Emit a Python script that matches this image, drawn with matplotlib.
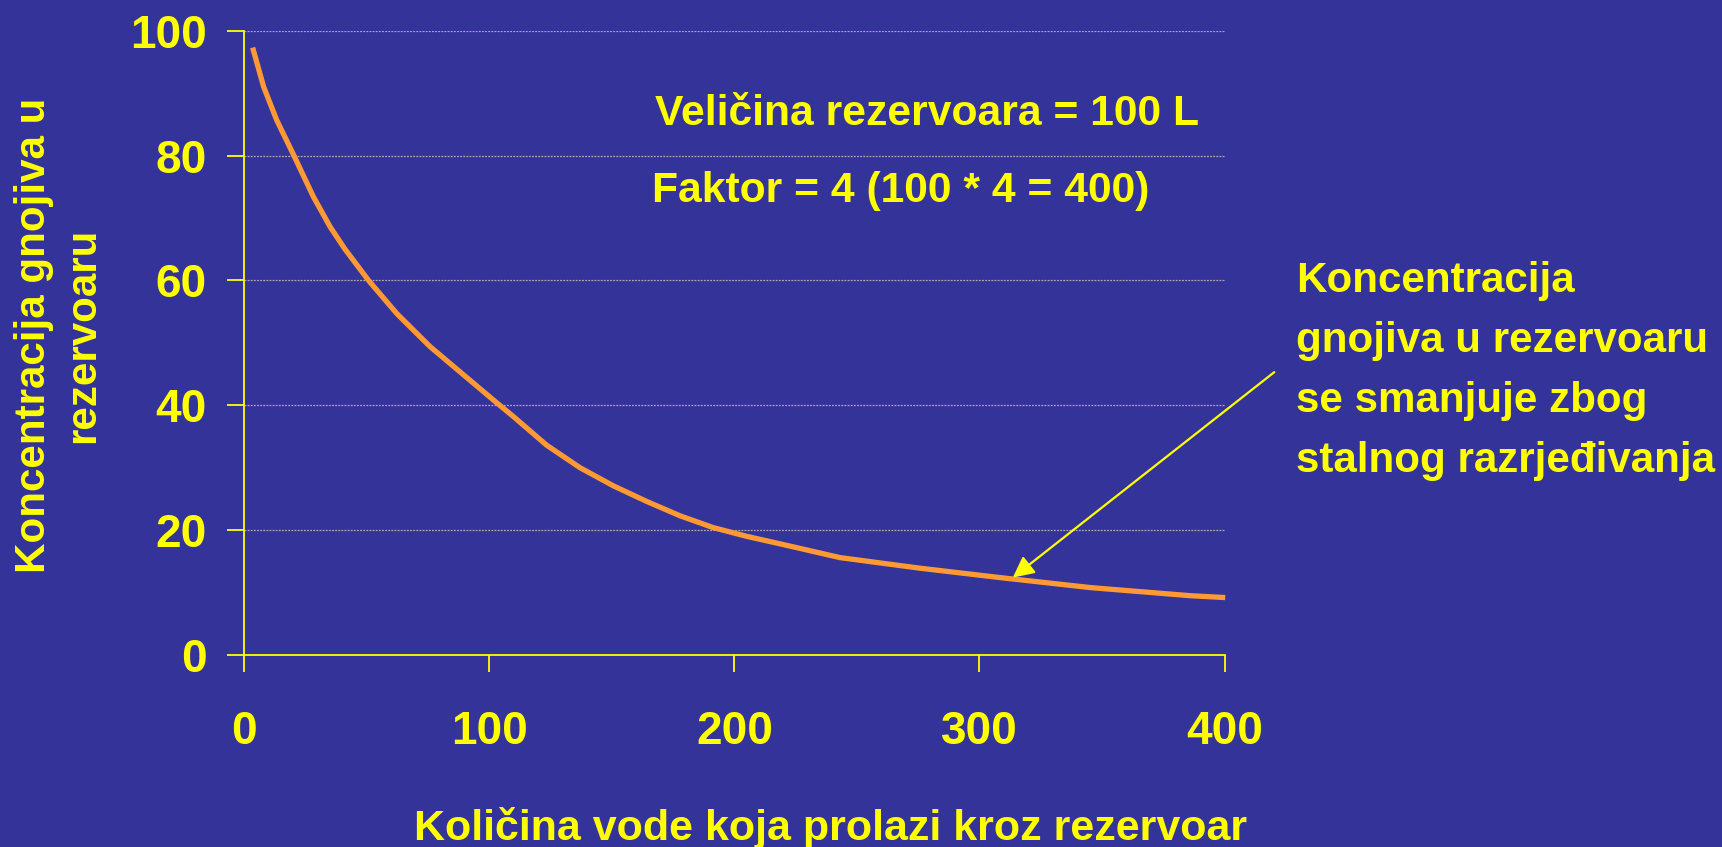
import matplotlib
matplotlib.use("Agg")
import matplotlib.pyplot as plt

# ---- data ----
water = [3.4, 7.9, 13.2, 20.0, 28.2, 35.0, 41.1, 50.7, 62.2, 75.8, 89.4, 103.0,
         109.8, 123.4, 137.0, 150.6, 164.2, 177.8, 191.4, 205.1, 218.7, 243.1,
         275.8, 308.4, 345.2, 386.0, 400.3]
concentration = [97.3, 91.0, 85.7, 80.2, 73.4, 68.6, 65.0, 60.0, 54.7, 49.4, 44.9,
                 40.4, 38.2, 33.6, 30.0, 27.1, 24.6, 22.3, 20.4, 19.0, 17.8, 15.6,
                 13.9, 12.4, 10.8, 9.5, 9.2]
x_ticks = [0, 100, 200, 300, 400]
y_ticks = [0, 20, 40, 60, 80, 100]

x_label = "Količina vode koja prolazi kroz rezervoar"
y_label = "Koncentracija gnojiva u\nrezervoaru"
info_lines = ["Veličina rezervoara = 100 L", "Faktor = 4 (100 * 4 = 400)"]
note_text = "Koncentracija\ngnojiva u rezervoaru\nse smanjuje zbog\nstalnog razrjeđivanja"
arrow_tip = (313.6, 12.4)
arrow_tail = (420.3, 45.3)

BG = "#333399"
YEL = "#FFFF00"
ORANGE = "#FF9933"
GRID = "#b9a3ad"

plt.rcParams["font.family"] = ["Liberation Sans", "DejaVu Sans"]
plt.rcParams["font.weight"] = "bold"

W, H = 1722, 847
fig = plt.figure(figsize=(W / 100, H / 100), dpi=100, facecolor=BG)
ax = fig.add_axes([244.3 / W, (H - 655) / H, 980.2 / W, 624.3 / H])
ax.set_facecolor(BG)

ax.set_xlim(0, 400)
ax.set_ylim(0, 100)

ax.plot(water, concentration, color=ORANGE, lw=3.8, solid_capstyle="butt",
        solid_joinstyle="round", clip_on=False, zorder=3)

for s in ["top", "right"]:
    ax.spines[s].set_visible(False)
for s in ["left", "bottom"]:
    ax.spines[s].set_color(YEL)
    ax.spines[s].set_linewidth(1.3)

ax.set_xticks(x_ticks)
ax.set_yticks(y_ticks)
ax.set_xticklabels([str(v) for v in x_ticks])
ax.set_yticklabels([str(v) for v in y_ticks])
ax.tick_params(axis="both", colors=YEL, length=11.9, width=1.3, direction="out",
               labelsize=33)
ax.tick_params(axis="x", pad=28)
ax.tick_params(axis="y", pad=15)
for lab in ax.get_xticklabels() + ax.get_yticklabels():
    lab.set_fontweight("bold")

ax.yaxis.grid(True, color=GRID, lw=0.9, linestyle=(0, (1.5, 1)))
ax.set_axisbelow(True)

ax.annotate("", xy=arrow_tip, xytext=arrow_tail, xycoords="data",
            textcoords="data", annotation_clip=False,
            arrowprops=dict(arrowstyle="-|>", color=YEL, lw=1.6,
                            mutation_scale=32, shrinkA=0, shrinkB=0))

fig.text(655 / W, (H - 125) / H, info_lines[0], color=YEL, fontsize=30.7,
         fontweight="bold", ha="left", va="baseline")
fig.text(652 / W, (H - 201.7) / H, info_lines[1], color=YEL, fontsize=30.7,
         fontweight="bold", ha="left", va="baseline")

fig.text(1296 / W, (H - 261) / H, note_text, color=YEL, fontsize=30.3,
         fontweight="bold", ha="left", va="top", linespacing=1.65)

fig.text(831 / W, (H - 840) / H, x_label, color=YEL, fontsize=31,
         fontweight="bold", ha="center", va="baseline")
fig.text(14 / W, (H - 335) / H, y_label, color=YEL, fontsize=30.3,
         fontweight="bold", ha="left", va="center", rotation=90,
         multialignment="center", linespacing=1.3)

fig.savefig("out.png", dpi=100, facecolor=BG)
